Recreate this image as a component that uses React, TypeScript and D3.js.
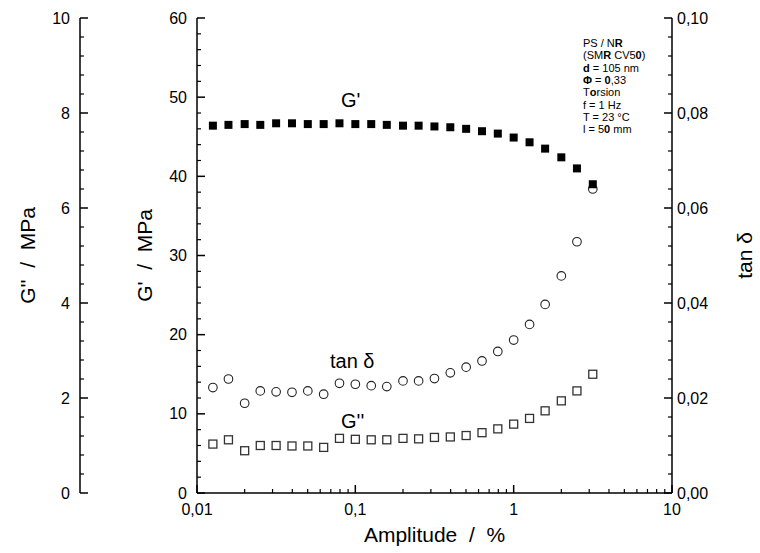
import React from "react";
import * as d3 from "d3";

const amplitude = [0.0126, 0.0158, 0.02, 0.0251, 0.0316, 0.0398, 0.0501, 0.0631, 0.0794, 0.1, 0.126, 0.158, 0.2, 0.251, 0.316, 0.398, 0.501, 0.631, 0.794, 1.0, 1.26, 1.58, 2.0, 2.51, 3.16];
const gPrime = [46.4, 46.5, 46.6, 46.5, 46.7, 46.7, 46.6, 46.6, 46.7, 46.6, 46.6, 46.5, 46.4, 46.4, 46.3, 46.2, 46.0, 45.7, 45.4, 44.9, 44.3, 43.5, 42.4, 41.0, 39.0];
const gDouble = [1.03, 1.12, 0.89, 1.0, 1.0, 0.99, 0.99, 0.96, 1.15, 1.13, 1.12, 1.12, 1.15, 1.14, 1.17, 1.18, 1.21, 1.27, 1.35, 1.45, 1.57, 1.73, 1.94, 2.15, 2.5];
const tanDelta = [0.0222, 0.024, 0.0189, 0.0215, 0.0213, 0.0212, 0.0215, 0.0208, 0.0231, 0.0229, 0.0226, 0.0224, 0.0236, 0.0236, 0.0241, 0.0253, 0.0265, 0.0278, 0.0298, 0.0322, 0.0355, 0.0397, 0.0457, 0.0529, 0.064];

const xMajor = [0.01, 0.1, 1, 10];
const xLabels = ["0,01", "0,1", "1", "10"];
const gPrimeTicks = [0, 10, 20, 30, 40, 50, 60];
const gDoubleTicks = [0, 2, 4, 6, 8, 10];
const tanTicks = [0, 0.02, 0.04, 0.06, 0.08, 0.1];
const tanLabels = ["0,00", "0,02", "0,04", "0,06", "0,08", "0,10"];

const infoLines: Array<Array<[string, boolean]>> = [
  [["PS / N", false], ["R", true]],
  [["(SM", false], ["R", true], [" CV5", false], ["0", true], [")", false]],
  [["d", true], [" = 105 nm", false]],
  [["Φ", true], [" = ", false], ["0", true], [",33", false]],
  [["T", false], ["o", true], ["rsion", false]],
  [["f = 1 Hz", false]],
  [["T = 23 °C", false]],
  [["l = 5", false], ["0", true], [" mm", false]],
];

const FONT = "'Liberation Sans', Arial, sans-serif";

export default function App() {
  const W = 760, H = 553;
  const left = 197, right = 672, top = 18, bottom = 493;
  const axG2 = 80;
  const x = d3.scaleLog().domain([0.01, 10]).range([left, right]);
  const yG1 = d3.scaleLinear().domain([0, 60]).range([bottom, top]);
  const yG2 = d3.scaleLinear().domain([0, 10]).range([bottom, top]);
  const yT = d3.scaleLinear().domain([0, 0.1]).range([bottom, top]);

  const xMinor: number[] = [];
  for (let d = 0.01; d < 10; d *= 10) for (let m = 2; m <= 9; m++) xMinor.push(d * m);
  const g1Minor = d3.range(0, 61, 2).filter((v) => v % 10 !== 0);
  const g2Minor = d3.range(0, 10.01, 0.4).filter((v) => Math.abs(v / 2 - Math.round(v / 2)) > 0.01);
  const tMinor = d3.range(0, 0.1001, 0.004).filter((v) => Math.abs(v / 0.02 - Math.round(v / 0.02)) > 0.01);

  const major = 8, minor = 4;
  const sq = 8;
  const pre = { whiteSpace: "pre" as const };

  return (
    <svg width={W} height={H} style={{ position: "absolute", left: 0, top: 0, background: "#fff" }} fontFamily={FONT}>
      <rect width={W} height={H} fill="#fff" />
      {/* G'' axis */}
      <line x1={axG2} x2={axG2} y1={top} y2={bottom} stroke="#000" strokeWidth={1.5} />
      {gDoubleTicks.map((v) => (
        <g key={"g2" + v}>
          <line x1={axG2} x2={axG2 + major} y1={yG2(v)} y2={yG2(v)} stroke="#000" strokeWidth={1.5} />
          <text x={axG2 - 10} y={yG2(v)} dy="0.35em" textAnchor="end" fontSize={16}>{v}</text>
        </g>
      ))}
      {g2Minor.map((v) => (
        <line key={"g2m" + v} x1={axG2} x2={axG2 + minor} y1={yG2(v)} y2={yG2(v)} stroke="#000" strokeWidth={1.2} />
      ))}
      <text transform={`translate(35,${(top + bottom) / 2}) rotate(-90)`} textAnchor="middle" fontSize={21} style={pre}>{"G''  /  MPa"}</text>

      {/* G' axis */}
      <line x1={left} x2={left} y1={top} y2={bottom} stroke="#000" strokeWidth={1.5} />
      {gPrimeTicks.map((v) => (
        <g key={"g1" + v}>
          <line x1={left} x2={left + major} y1={yG1(v)} y2={yG1(v)} stroke="#000" strokeWidth={1.5} />
          <text x={left - 10} y={yG1(v)} dy="0.35em" textAnchor="end" fontSize={16}>{v}</text>
        </g>
      ))}
      {g1Minor.map((v) => (
        <line key={"g1m" + v} x1={left} x2={left + minor} y1={yG1(v)} y2={yG1(v)} stroke="#000" strokeWidth={1.2} />
      ))}
      <text transform={`translate(152,${(top + bottom) / 2}) rotate(-90)`} textAnchor="middle" fontSize={21} style={pre}>{"G'  /  MPa"}</text>

      {/* tan delta axis */}
      <line x1={right} x2={right} y1={top} y2={bottom} stroke="#000" strokeWidth={1.5} />
      {tanTicks.map((v, i) => (
        <g key={"t" + v}>
          <line x1={right} x2={right - major} y1={yT(v)} y2={yT(v)} stroke="#000" strokeWidth={1.5} />
          <text x={right + 5} y={yT(v)} dy="0.35em" textAnchor="start" fontSize={16}>{tanLabels[i]}</text>
        </g>
      ))}
      {tMinor.map((v) => (
        <line key={"tm" + v} x1={right} x2={right - minor} y1={yT(v)} y2={yT(v)} stroke="#000" strokeWidth={1.2} />
      ))}
      <text transform={`translate(752,${(top + bottom) / 2}) rotate(-90)`} textAnchor="middle" fontSize={21}>tan δ</text>

      {/* x axis */}
      <line x1={left} x2={right} y1={bottom} y2={bottom} stroke="#000" strokeWidth={1.5} />
      {xMajor.map((v, i) => (
        <g key={"x" + v}>
          <line x1={x(v)} x2={x(v)} y1={bottom} y2={bottom - major} stroke="#000" strokeWidth={1.5} />
          <text x={x(v)} y={bottom + 22} textAnchor="middle" fontSize={16}>{xLabels[i]}</text>
        </g>
      ))}
      {xMinor.map((v) => (
        <line key={"xm" + v} x1={x(v)} x2={x(v)} y1={bottom} y2={bottom - minor} stroke="#000" strokeWidth={1.2} />
      ))}
      <text x={(left + right) / 2} y={542} textAnchor="middle" fontSize={21} style={pre}>{"Amplitude  /  %"}</text>

      {/* data */}
      {amplitude.map((a, i) => (
        <rect key={"gd" + i} x={x(a) - sq / 2} y={yG2(gDouble[i]) - sq / 2} width={sq} height={sq} fill="#fff" stroke="#333" strokeWidth={1.3} />
      ))}
      {amplitude.map((a, i) => (
        <circle key={"td" + i} cx={x(a)} cy={yT(tanDelta[i])} r={4.3} fill="#fff" stroke="#222" strokeWidth={1.1} />
      ))}
      {amplitude.map((a, i) => (
        <rect key={"gp" + i} x={x(a) - sq / 2} y={yG1(gPrime[i]) - sq / 2} width={sq} height={sq} fill="#000" />
      ))}

      {/* series labels */}
      <text x={341} y={107} fontSize={20}>G'</text>
      <text x={330} y={368} fontSize={20}>tan δ</text>
      <text x={341} y={428} fontSize={20}>G''</text>

      {/* info block */}
      {infoLines.map((line, i) => (
        <text key={"info" + i} x={583} y={47 + i * 12.3} fontSize={11}>
          {line.map(([s, b], j) => (
            <tspan key={j} fontWeight={b ? "bold" : "normal"}>{s}</tspan>
          ))}
        </text>
      ))}
    </svg>
  );
}
